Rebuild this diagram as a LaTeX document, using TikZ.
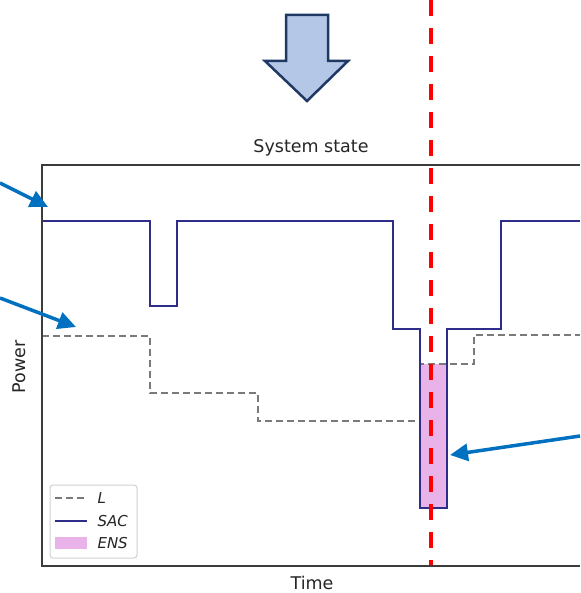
\documentclass[tikz,border=0pt]{standalone}
\usepackage{fontspec}
\setmainfont{DejaVu Sans}
\usetikzlibrary{arrows.meta}
\definecolor{sacnavy}{HTML}{2E2E8A}
\definecolor{loadgray}{HTML}{7A7A7A}
\definecolor{ensfill}{HTML}{E9B3E9}
\definecolor{callout}{HTML}{0070C0}
\definecolor{bigfill}{HTML}{B4C7E7}
\definecolor{bigedge}{HTML}{1F3864}
\definecolor{framegray}{HTML}{3C3C3C}
\tikzset{
  sacline/.style={draw=sacnavy, line width=2pt, line join=miter},
  loadline/.style={draw=loadgray, line width=2pt, dash pattern=on 7pt off 4pt},
  eventline/.style={draw=red, line width=3.5pt, dash pattern=on 16pt off 12pt},
  calloutarrow/.style={draw=callout, line width=3.5pt, -{Triangle[length=18pt,width=17pt]}},
  axislabel/.style={font=\fontsize{17.5}{20}\selectfont, text=black!85},
  legendtext/.style={font=\fontsize{15}{18}\itshape, anchor=west, text=black!85}
}
\begin{document}
\begin{tikzpicture}[x=1pt,y=-1pt]
\useasboundingbox (0,0) rectangle (580,593);
\fill[white] (0,0) rectangle (580,593);

% big downward arrow
\draw[fill=bigfill, draw=bigedge, line width=2.5pt, line join=miter]
  (286,15) -- (328,15) -- (328,61) -- (348,61) -- (307,101) -- (265,61) -- (286,61) -- cycle;

% energy not supplied
\fill[ensfill] (420,364) rectangle (447,508);

% load curve
\draw[loadline] (42,336) -- (150,336) -- (150,393) -- (258,393) -- (258,421)
  -- (420,421) -- (420,364) -- (474,364) -- (474,335) -- (580,335);

% available capacity curve
\draw[sacline] (42,221) -- (150,221) -- (150,306) -- (177,306) -- (177,221)
  -- (393,221) -- (393,329) -- (420,329) -- (420,508) -- (447,508) -- (447,329)
  -- (501,329) -- (501,221) -- (580,221);

% axes frame (open on the right)
\draw[framegray, line width=1.3pt] (580,165) -- (42,165) -- (42,566) -- (580,566);

% event marker
\draw[eventline] (431,0) -- (431,565);

% legend
\draw[draw=black!18, fill=white, line width=1pt, rounded corners=3pt] (50,485) rectangle (137,558);
\draw[loadline] (55,498) -- (87,498);
\draw[sacline] (55,521) -- (87,521);
\fill[ensfill] (55,537) rectangle (87,549);
\node[legendtext] (legL) at (94,498) {L};
\node[legendtext] (legS) at (94,521) {SAC};
\node[legendtext] (legE) at (94,543) {ENS};

% titles
\node[axislabel] (title) at (311,148) {System state};
\node[axislabel] (xlab) at (312,583) {Time};
\node[axislabel, rotate=90] (ylab) at (19,367) {Power};

% callout arrows
\coordinate (c1s) at (0,183);
\coordinate (c1e) at (48,207);
\coordinate (c2s) at (0,298);
\coordinate (c2e) at (76,327);
\coordinate (c3s) at (580,436);
\coordinate (c3e) at (450,455);
\draw[calloutarrow] (c1s) -- (c1e);
\draw[calloutarrow] (c2s) -- (c2e);
\draw[calloutarrow] (c3s) -- (c3e);
\end{tikzpicture}
\end{document}
